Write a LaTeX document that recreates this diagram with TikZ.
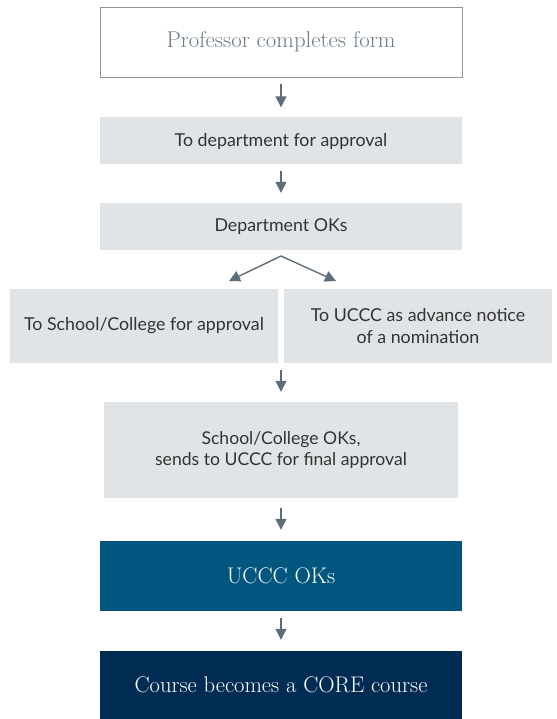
\documentclass[tikz,border=0pt]{standalone}
\usepackage{fontspec}
\newfontfamily\boxsans{Lato}
\usetikzlibrary{positioning,arrows.meta}
\definecolor{stepgray}{HTML}{E1E4E7}
\definecolor{arrowgray}{HTML}{5E6E79}
\definecolor{framegray}{HTML}{8A969F}
\definecolor{formtext}{HTML}{6C7C86}
\definecolor{okblue}{HTML}{00567F}
\definecolor{coreblue}{HTML}{002C54}
\tikzset{
x=1pt, y=-1pt,
flow/.style={-{Triangle[width=11pt,length=11pt]}, draw=arrowgray, fill=arrowgray, line width=1.4pt},
formbox/.style={draw=framegray, line width=0.8pt, fill=white, text=formtext,
  minimum width=362pt, minimum height=70pt, font=\fontsize{22.8}{26}\selectfont},
graybox/.style={fill=stepgray, text=black!80, align=center,
  minimum width=362pt, minimum height=47pt, font=\boxsans\fontsize{17.8}{22}\selectfont},
darkbox/.style={text=white, minimum width=362pt, minimum height=70pt,
  font=\fontsize{22.6}{26}\selectfont},
}

\begin{document}
\begin{tikzpicture}
    \useasboundingbox (0,0) rectangle (556,719);
    \node[formbox] (form) at (281,42) {Professor completes form};
    \node[graybox] (dept) at (281,141) {To department for approval};
    \node[graybox] (deptok) at (281,226.5) {Department OKs};
    \node[graybox, minimum width=268pt, minimum height=74pt] (school) at (144,326) {To School/College for approval};
    \node[graybox, minimum width=268pt, minimum height=74pt] (notice) at (418,326) {To UCCC as advance notice\\of a nomination};
    \node[graybox, minimum width=354pt, minimum height=96pt,
      font=\boxsans\fontsize{17.6}{21}\selectfont] (schoolok) at (281,450) {School/College OKs,\\sends to UCCC for final approval};
    \node[darkbox, fill=okblue] (uccc) at (281,576) {UCCC OKs};
    \node[darkbox, fill=coreblue, minimum height=68pt] (core) at (281,685) {Course becomes a CORE course};

    % split after the department
    \coordinate (apex) at (281,256);
    \coordinate (toleft) at (229,281);
    \coordinate (toright) at (336,281);

    \draw[flow] ([yshift=-7pt]form.south) -- ([yshift=10pt]dept.north);
    \draw[flow] ([yshift=-6pt]dept.south) -- ([yshift=10pt]deptok.north);
    \draw[flow] (apex) -- (toleft);
    \draw[flow] (apex) -- (toright);
    \draw[flow] ([xshift=137pt,yshift=-7pt]school.south) -- ([yshift=10pt]schoolok.north);
    \draw[flow] ([yshift=-10pt]schoolok.south) -- ([yshift=11pt]uccc.north);
    \draw[flow] ([yshift=-7pt]uccc.south) -- ([yshift=11pt]core.north);
\end{tikzpicture}
\end{document}
